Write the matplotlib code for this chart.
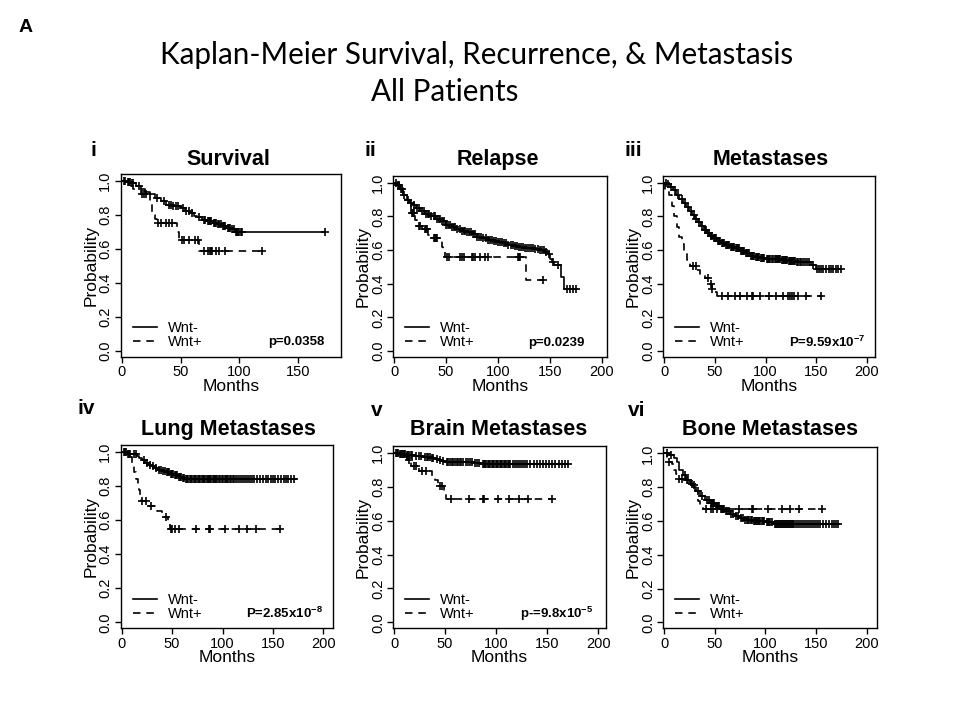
import numpy as np
import matplotlib
matplotlib.use("Agg")
import matplotlib.pyplot as plt
from matplotlib.lines import Line2D

plt.rcParams['font.family'] = ['Liberation Sans', 'DejaVu Sans']
plt.rcParams['mathtext.fontset'] = 'custom'
plt.rcParams['mathtext.rm'] = 'Liberation Sans'
plt.rcParams['mathtext.bf'] = 'Liberation Sans:bold'

# ---------------- data ----------------
panel_ids = ["i", "ii", "iii", "iv", "v", "vi"]
panel_titles = ["Survival", "Relapse", "Metastases",
                "Lung Metastases", "Brain Metastases", "Bone Metastases"]
p_values = ["p=0.0358", "p=0.0239", r"P=9.59x$\mathbf{10^{-7}}$",
            r"P=2.85x$\mathbf{10^{-8}}$", r"p-=9.8x$\mathbf{10^{-5}}$", ""]
group_labels = ["Wnt-", "Wnt+"]
x_ticks_short = [0, 50, 100, 150]
x_ticks_long = [0, 50, 100, 150, 200]
y_ticks = [0.0, 0.2, 0.4, 0.6, 0.8, 1.0]

# panel i : Survival
p1_neg_t = [0, 4, 8, 12, 16, 20, 24, 28, 33, 38, 44, 50, 54, 58, 61, 64, 68, 72, 77, 81, 85, 89, 93, 96]
p1_neg_s = [1.0, 0.995, 0.985, 0.97, 0.95, 0.935, 0.92, 0.90, 0.88, 0.86, 0.85, 0.84, 0.825, 0.81,
            0.795, 0.785, 0.77, 0.765, 0.755, 0.745, 0.735, 0.725, 0.715, 0.70]
p1_neg_end = 173
p1_neg_c = [2, 3, 5, 6, 7, 9, 10, 15, 30, 36, 40, 42, 44, 46, 48, 52, 55, 57, 60, 66, 70, 71, 73, 74,
            75, 76, 78, 79, 80, 82, 83, 84, 86, 87, 88, 90, 91, 92, 94, 95, 97, 98, 99, 100, 101, 102, 173]
p1_pos_t = [0, 6, 10, 16, 24, 26, 28, 30, 47, 49, 66]
p1_pos_s = [1.0, 0.97, 0.95, 0.925, 0.87, 0.80, 0.775, 0.755, 0.70, 0.655, 0.59]
p1_pos_end = 119
p1_pos_c = [17, 19, 21, 31, 33, 38, 40, 43, 51, 53, 57, 62, 65, 70, 73, 75, 76, 77, 80, 83, 88, 119]

# panel ii : Relapse
p2_neg_t = [0, 3, 6, 9, 12, 15, 18, 21, 25, 30, 35, 40, 45, 50, 55, 60, 65, 70, 75, 80, 85, 90, 95,
            100, 105, 110, 115, 120, 125, 130, 135, 140, 145, 148, 150, 152, 154, 161, 163]
p2_neg_s = [1.0, 0.985, 0.96, 0.93, 0.90, 0.88, 0.865, 0.85, 0.835, 0.815, 0.80, 0.785, 0.77, 0.75,
            0.74, 0.725, 0.715, 0.705, 0.695, 0.68, 0.67, 0.66, 0.655, 0.648, 0.64, 0.63, 0.625, 0.62,
            0.615, 0.61, 0.605, 0.60, 0.59, 0.575, 0.55, 0.53, 0.51, 0.44, 0.37]
p2_neg_end = 176
p2_neg_c = [2, 4, 5, 7, 8, 10, 13, 16, 19, 22, 24, 27, 29, 31, 33, 34, 36, 38, 39, 41, 43, 44, 46, 48,
            50, 52, 54, 56, 58, 59, 61, 63, 65, 67, 68, 70, 72, 74, 76, 78, 80, 82, 84, 86, 88, 90, 92,
            94, 96, 98, 100, 102, 104, 106, 108, 110, 112, 114, 116, 118, 120, 122, 124, 126, 128, 130,
            132, 134, 136, 138, 140, 142, 144, 146, 149, 153, 158, 166, 169, 172, 175]
p2_pos_t = [0, 5, 9, 11, 14, 16, 20, 22, 27, 33, 36, 46, 47.5, 49, 127]
p2_pos_s = [1.0, 0.97, 0.93, 0.90, 0.86, 0.82, 0.78, 0.745, 0.725, 0.69, 0.67, 0.62, 0.59, 0.56, 0.425]
p2_pos_end = 143
p2_pos_c = [17, 18, 19, 24, 25, 30, 31, 32, 38, 39, 40, 41, 51, 53, 63, 65, 67, 75, 76, 78, 83, 87,
            90, 119, 120, 121, 143]

# panel iii : Metastases
p3_neg_t = [0, 3, 6, 9, 12, 15, 18, 21, 24, 27, 30, 33, 36, 39, 42, 45, 48, 52, 56, 60, 65, 70, 75,
            80, 85, 90, 95, 100, 108, 115, 122, 130, 145, 150]
p3_neg_s = [1.0, 0.99, 0.975, 0.955, 0.93, 0.905, 0.88, 0.855, 0.83, 0.81, 0.785, 0.765, 0.745, 0.72,
            0.70, 0.685, 0.67, 0.655, 0.64, 0.63, 0.62, 0.61, 0.595, 0.58, 0.565, 0.56, 0.555, 0.55,
            0.545, 0.54, 0.535, 0.53, 0.51, 0.49]
p3_neg_end = 175
p3_neg_c = [2, 4, 7, 11, 14, 17, 20, 23, 26, 29, 31, 34, 37, 40, 41, 43, 44, 46, 47, 49, 50, 51, 53,
            54, 55, 57, 58, 59, 61, 62, 63, 64, 66, 67, 68, 69, 71, 72, 73, 74, 76, 77, 78, 79, 81, 82,
            83, 84, 86, 87, 88, 89, 91, 92, 93, 94, 96, 97, 98, 99, 101, 102, 103, 104, 106, 107, 109,
            110, 111, 112, 113, 114, 116, 117, 118, 119, 120, 121, 123, 124, 125, 126, 127, 128, 129,
            131, 132, 134, 135, 137, 139, 141, 143, 147, 151, 153, 155, 157, 160, 163, 165, 167, 170,
            172, 175]
p3_pos_t = [0, 1, 5, 8, 10, 13, 15, 17, 19, 22, 25, 32, 35, 40, 45, 47, 50, 52]
p3_pos_s = [1.0, 0.955, 0.93, 0.86, 0.80, 0.735, 0.675, 0.635, 0.58, 0.54, 0.505, 0.48, 0.46, 0.435,
            0.40, 0.37, 0.35, 0.325]
p3_pos_end = 155
p3_pos_c = [28, 31, 43, 46, 47, 57, 63, 70, 75, 82, 87, 88, 95, 103, 110, 117, 122, 124, 126, 128,
            132, 140, 155]

# panel iv : Lung Metastases
p4_neg_t = [0, 5, 10, 15, 17, 20, 23, 26, 29, 32, 36, 40, 44, 48, 52, 56, 60, 63]
p4_neg_s = [1.0, 0.99, 0.985, 0.975, 0.965, 0.95, 0.935, 0.925, 0.915, 0.905, 0.895, 0.89, 0.88,
            0.87, 0.865, 0.855, 0.845, 0.838]
p4_neg_end = 173
p4_neg_c = [2, 3, 4, 6, 7, 8, 12, 14, 22, 25, 28, 31, 34, 37, 39, 41, 43, 45, 46, 47, 49, 50, 51, 53,
            54, 55, 57, 58, 59, 61, 62, 64, 65, 66, 68, 69, 70, 72, 73, 74, 76, 77, 78, 80, 81, 82, 83,
            85, 86, 87, 88, 89, 91, 92, 93, 94, 95, 97, 98, 99, 100, 102, 103, 104, 105, 107, 108, 110,
            111, 113, 115, 117, 119, 121, 123, 125, 127, 129, 131, 134, 137, 140, 143, 145, 148, 150,
            152, 155, 158, 161, 163, 165, 168, 171]
p4_pos_t = [0, 5, 9, 10, 12, 14, 16, 17, 18, 19, 27, 35, 40, 46, 48]
p4_pos_s = [1.0, 0.99, 0.97, 0.93, 0.88, 0.84, 0.80, 0.775, 0.73, 0.71, 0.68, 0.65, 0.615, 0.58, 0.547]
p4_pos_end = 157
p4_pos_c = [20, 24, 29, 44, 49, 50, 53, 57, 74, 87, 88, 102, 116, 124, 133, 157]

# panel v : Brain Metastases
p5_neg_t = [0, 5, 12, 20, 28, 36, 40, 43, 46, 50, 77, 85]
p5_neg_s = [1.0, 0.99, 0.985, 0.98, 0.975, 0.97, 0.965, 0.958, 0.95, 0.945, 0.94, 0.935]
p5_neg_end = 170
p5_neg_c = [2, 3, 4, 6, 7, 8, 9, 10, 11, 13, 14, 15, 17, 18, 22, 24, 26, 30, 32, 33, 35, 37, 38, 42,
            45, 48, 52, 53, 55, 57, 58, 60, 62, 63, 65, 66, 68, 70, 72, 74, 76, 79, 81, 83, 87, 88, 89,
            90, 92, 93, 94, 96, 97, 98, 100, 101, 102, 104, 105, 106, 108, 109, 110, 112, 113, 114, 116,
            118, 120, 122, 124, 126, 128, 130, 133, 137, 140, 143, 146, 149, 152, 155, 158, 161, 164,
            167, 170]
p5_pos_t = [0, 5, 13, 17, 24, 37, 40, 43, 49, 51]
p5_pos_s = [1.0, 0.98, 0.96, 0.92, 0.89, 0.862, 0.838, 0.803, 0.76, 0.725]
p5_pos_end = 155
p5_pos_c = [15, 20, 22, 27, 31, 45, 47, 56, 73, 87, 88, 102, 113, 122, 131, 155]

# panel vi : Bone Metastases
p6_neg_t = [0, 5, 10, 13, 15, 18, 21, 25, 28, 31, 35, 40, 45, 50, 55, 60, 65, 70, 75, 80, 88, 100, 108]
p6_neg_s = [1.0, 0.99, 0.975, 0.95, 0.905, 0.87, 0.845, 0.82, 0.80, 0.78, 0.75, 0.725, 0.705, 0.688,
            0.672, 0.658, 0.642, 0.628, 0.618, 0.608, 0.602, 0.595, 0.585]
p6_neg_end = 172
p6_neg_c = [3, 7, 20, 23, 27, 33, 37, 42, 44, 46, 47, 48, 49, 51, 52, 53, 54, 56, 57, 58, 59, 61, 62,
            64, 66, 68, 71, 73, 76, 78, 80, 82, 83, 84, 86, 87, 89, 90, 91, 92, 93, 94, 95, 97, 98, 99,
            101, 102, 103, 104, 106, 109, 110, 111, 112, 113, 114, 115, 116, 117, 118, 119, 120, 121,
            122, 123, 124, 125, 126, 127, 128, 130, 132, 134, 136, 138, 140, 142, 144, 146, 148, 150,
            152, 154, 157, 160, 163, 166, 168, 170, 172]
p6_pos_t = [0, 3, 8, 10, 12, 14, 20, 26, 30, 33, 35, 38]
p6_pos_s = [1.0, 0.95, 0.935, 0.905, 0.88, 0.848, 0.84, 0.812, 0.775, 0.72, 0.695, 0.673]
p6_pos_end = 156
p6_pos_c = [5, 15, 17, 22, 29, 41, 46, 48, 52, 58, 74, 87, 88, 102, 116, 124, 133, 156]

curves = [
    ((p1_neg_t, p1_neg_s, p1_neg_end, p1_neg_c), (p1_pos_t, p1_pos_s, p1_pos_end, p1_pos_c)),
    ((p2_neg_t, p2_neg_s, p2_neg_end, p2_neg_c), (p2_pos_t, p2_pos_s, p2_pos_end, p2_pos_c)),
    ((p3_neg_t, p3_neg_s, p3_neg_end, p3_neg_c), (p3_pos_t, p3_pos_s, p3_pos_end, p3_pos_c)),
    ((p4_neg_t, p4_neg_s, p4_neg_end, p4_neg_c), (p4_pos_t, p4_pos_s, p4_pos_end, p4_pos_c)),
    ((p5_neg_t, p5_neg_s, p5_neg_end, p5_neg_c), (p5_pos_t, p5_pos_s, p5_pos_end, p5_pos_c)),
    ((p6_neg_t, p6_neg_s, p6_neg_end, p6_neg_c), (p6_pos_t, p6_pos_s, p6_pos_end, p6_pos_c)),
]

# ---------------- layout ----------------
W, H = 960, 720
# axes boxes in pixels: left, right, top, bottom
boxes = [(120.7, 341.0, 174, 357), (393.3, 606.7, 176, 357), (663.3, 875.0, 176, 357),
         (120.7, 333.3, 445, 628.3), (393.3, 605.7, 446, 628.3), (663.3, 876.7, 446.7, 628.3)]
xlims = [(-0.85, 186.3), (-0.7, 204.5), (-1.0, 208.2), (-1.0, 209.9), (-0.7, 207.2), (-1.0, 209.9)]
title_pos = [(228, 165), (498, 165), (771, 165), (228, 435), (499, 435), (770, 435)]
label_pos = [(93, 150), (370, 150), (633, 150), (86, 409), (377, 410), (637, 410)]
p_xpos = [0.927, 0.898, 0.953, 0.95, 0.94, 0.95]

fig = plt.figure(figsize=(9.6, 7.2), dpi=100)
fig.patch.set_facecolor("white")

fig.text(25.5 / W, 1 - 27.5 / H, "A", fontsize=14, fontweight="bold", ha="center", va="center")
fig.text(476.5 / W, 1 - 55 / H, "Kaplan-Meier Survival, Recurrence, & Metastasis",
         family="Lato", fontsize=21.3, ha="center", va="center")
fig.text(445 / W, 1 - 92 / H, "All Patients", family="Lato", fontsize=21.3, ha="center", va="center")


def step_value(t, s, x):
    idx = np.searchsorted(np.asarray(t, dtype=float), np.asarray(x, dtype=float), side="right") - 1
    return np.asarray(s)[idx]


dash = (0, (4.5, 3.5))
for k in range(6):
    l, r, tp, bt = boxes[k]
    ax = fig.add_axes([l / W, 1 - bt / H, (r - l) / W, (bt - tp) / H])
    styles = [dict(ls="-"), dict(ls=dash)]
    for g, (t, s, end, c) in enumerate(curves[k]):
        xs = list(t) + [end]
        ys = list(s) + [s[-1]]
        ax.step(xs, ys, where="post", color="black", lw=1.2, **styles[g])
        ax.plot(c, step_value(t, s, c), ls="none", marker="+", ms=6, mew=1.2, color="black")
    ax.set_xlim(*xlims[k])
    ax.set_ylim(-0.035, 1.04)
    ax.set_xticks(x_ticks_short if k == 0 else x_ticks_long)
    ax.set_yticks(y_ticks)
    ax.set_yticklabels([f"{v:.1f}" for v in y_ticks], rotation=90, va="center")
    ax.tick_params(direction="out", length=4, width=1, labelsize=10.5, pad=2, colors="black")
    for sp in ax.spines.values():
        sp.set_linewidth(1.0)
    ax.set_xlabel("Months", fontsize=12.5, labelpad=-0.5)
    ax.set_ylabel("Probability", fontsize=12.5, labelpad=0)
    handles = [Line2D([], [], color="black", lw=1.2, ls="-"),
               Line2D([], [], color="black", lw=1.2, ls=dash)]
    ax.legend(handles, group_labels, loc="lower left", bbox_to_anchor=(0.029, 0.01), frameon=False,
              fontsize=10.5, handlelength=1.65, handletextpad=0.75, labelspacing=0.0,
              borderaxespad=0.0)
    if p_values[k]:
        ax.text(p_xpos[k], 0.08, p_values[k], transform=ax.transAxes, ha="right", va="center",
                fontsize=9.5, fontweight="bold")
    tx, ty = title_pos[k]
    fig.text(tx / W, 1 - ty / H, panel_titles[k], fontsize=15.5, fontweight="bold",
             ha="center", va="baseline")
    lx, ly = label_pos[k]
    fig.text(lx / W, 1 - ly / H, panel_ids[k], fontsize=15, fontweight="bold",
             ha="center", va="center")

fig.savefig("out.png", dpi=100, facecolor="white")
